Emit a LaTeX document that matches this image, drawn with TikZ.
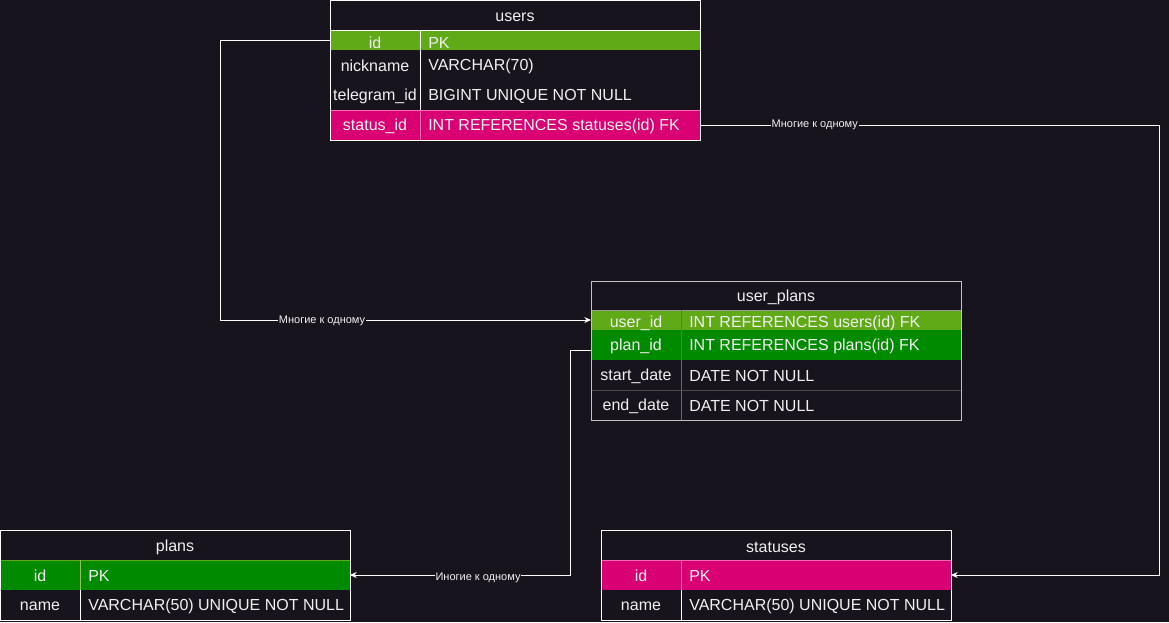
\documentclass[tikz,border=0pt]{standalone}
\usepackage{fontspec}
\setmainfont{Liberation Sans}
\usetikzlibrary{fit,arrows.meta}
\definecolor{bg}{HTML}{18141D}
\definecolor{gA}{HTML}{60A917}
\definecolor{gB}{HTML}{008A00}
\definecolor{pk}{HTML}{D80073}
\definecolor{pkl}{HTML}{FF6AB0}
\definecolor{txt}{HTML}{F0F0F0}
\definecolor{gry}{HTML}{9A9A9A}
\tikzset{
  rowbox/.style={inner sep=0pt, outer sep=0pt, draw=none},
  tblbox/.style={inner sep=0pt, outer sep=0pt, draw=white, line width=0.75pt},
  cell/.style={text=txt, font=\fontsize{12}{13}\selectfont, inner sep=0pt, yshift=-0.9pt},
  ttl/.style={cell},
  typ/.style={cell, anchor=west},
  edge/.style={draw=white, line width=0.75pt, -{Stealth[length=5pt,width=4.5pt]}},
  lab/.style={fill=bg, text=txt, font=\fontsize{8.25}{9}\selectfont, inner sep=0.5pt}
}
\begin{document}
\begin{tikzpicture}[x=0.75pt,y=-0.75pt]
\fill[bg] (0,0) rectangle (1169,622);
\useasboundingbox (0,0) rectangle (1169,622);

% ---------- users ----------
\node[rowbox, fill=gA, fit={(330,30)(700,50)}] (uid) {};
\node[rowbox, fill=pk, fit={(330,110)(700,140)}] (ust) {};
\draw[pkl, line width=0.75pt] (330,110) rectangle (700,140);
\draw[white, line width=0.75pt] (330,30) -- (700,30);
\draw[white, line width=0.75pt] (420,30) -- (420,110);
\draw[pkl, line width=0.75pt] (420,110) -- (420,140);
\node[tblbox, fit={(330,0)(700,140)}] (users) {};
\node[ttl] (usersT) at (515,16) {users};
\node[cell] (u1a) at (375,42) {id};
\node[typ] (u1b) at (428,42) {PK};
\node[cell] (u2a) at (375,65) {nickname};
\node[typ] (u2b) at (428,65) {VARCHAR(70)};
\node[cell] (u3a) at (375,95) {telegram\_id};
\node[typ] (u3b) at (428,95) {BIGINT UNIQUE NOT NULL};
\node[cell] (u4a) at (375,125) {status\_id};
\node[typ] (u4b) at (428,125) {INT REFERENCES statuses(id) FK};

% ---------- user_plans ----------
\node[rowbox, fill=gA, fit={(591,310)(961,330)}] (upu) {};
\node[rowbox, fill=gB, fit={(591,330)(961,360)}] (upp) {};
\draw[gry!40!bg, line width=0.5pt] (591,390) -- (961,390);
\draw[gry, line width=0.75pt] (591,310) -- (961,310);
\draw[gry!70!black, line width=0.5pt] (681,310) -- (681,360);
\draw[gry!60!bg, line width=0.75pt] (681,360) -- (681,420);
\node[tblbox, draw=gry!60!white, fit={(591,281)(961,420)}] (uplans) {};
\node[ttl] (uplansT) at (776,296) {user\_plans};
\node[cell] (p1a) at (636,322) {user\_id};
\node[typ] (p1b) at (689,322) {INT REFERENCES users(id) FK};
\node[cell] (p2a) at (636,345) {plan\_id};
\node[typ] (p2b) at (689,345) {INT REFERENCES plans(id) FK};
\node[cell] (p3a) at (636,375) {start\_date};
\node[typ] (p3b) at (689,375) {DATE NOT NULL};
\node[cell] (p4a) at (636,405) {end\_date};
\node[typ] (p4b) at (689,405) {DATE NOT NULL};

% ---------- plans ----------
\node[rowbox, fill=gB, fit={(0,560)(350,590)}] (pid) {};
\draw[gA, line width=0.75pt] (0,560) -- (350,560);
\draw[gA!70!white, line width=0.5pt] (80,560) -- (80,590);
\draw[white, line width=0.75pt] (80,590) -- (80,620);
\node[tblbox, fit={(0,530)(350,620)}] (plans) {};
\node[ttl] (plansT) at (175,546) {plans};
\node[cell] (l1a) at (40,575) {id};
\node[typ] (l1b) at (88,575) {PK};
\node[cell] (l2a) at (40,605) {name};
\node[typ] (l2b) at (88,605) {VARCHAR(50) UNIQUE NOT NULL};

% ---------- statuses ----------
\node[rowbox, fill=pk, fit={(601,560)(951,590)}] (sid) {};
\draw[pkl, line width=0.75pt] (601,560) -- (951,560);
\draw[pkl, line width=0.5pt] (681,560) -- (681,590);
\draw[white, line width=0.75pt] (681,590) -- (681,620);
\node[tblbox, fit={(601,530)(951,620)}] (statuses) {};
\node[ttl] (statusesT) at (776,546) {statuses};
\node[cell] (s1a) at (641,575) {id};
\node[typ] (s1b) at (689,575) {PK};
\node[cell] (s2a) at (641,605) {name};
\node[typ] (s2b) at (689,605) {VARCHAR(50) UNIQUE NOT NULL};

% ---------- connectors ----------
\draw[edge] (uid.west) -- ++(-110,0) |- node[lab, pos=0.6375, yshift=-1pt] {Многие к одному} (upu.west);
\draw[edge] ([yshift=-3.75pt]upp.west) -- ++(-21,0) |- node[lab, pos=0.709, yshift=-2.5pt] {Иногие к одному} (pid.east);
\draw[edge] (ust.east) -- node[lab, pos=0.25] {Многие к одному} ++(459,0) |- (sid.east);
\end{tikzpicture}
\end{document}
